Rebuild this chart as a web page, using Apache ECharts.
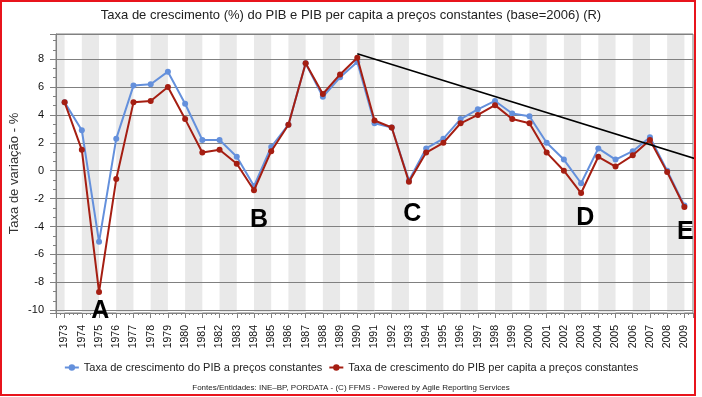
<!DOCTYPE html>
<html>
<head>
<meta charset="utf-8">
<script src="https://cdn.jsdelivr.net/npm/echarts@6/dist/echarts.min.js"></script>
<style>
  html, body { margin: 0; padding: 0; background: #fff; }
  #chart { width: 702px; height: 397px; }
</style>
</head>
<body>
<div id="chart"></div>
<script>
// anos (eixo x)
const years = [1973, 1974, 1975, 1976, 1977, 1978, 1979, 1980, 1981, 1982, 1983, 1984, 1985,
  1986, 1987, 1988, 1989, 1990, 1991, 1992, 1993, 1994, 1995, 1996, 1997, 1998, 1999,
  2000, 2001, 2002, 2003, 2004, 2005, 2006, 2007, 2008, 2009];

// Taxa de crescimento do PIB a preços constantes
const pib = [4.9, 2.9, -5.1, 2.3, 6.1, 6.2, 7.1, 4.8, 2.2, 2.2, 1.0, -1.1, 1.7,
  3.3, 7.7, 5.3, 6.7, 7.8, 3.4, 3.1, -0.7, 1.6, 2.3, 3.7, 4.4, 5.0, 4.1,
  3.9, 2.0, 0.8, -0.9, 1.6, 0.8, 1.4, 2.4, 0.0, -2.5];

// Taxa de crescimento do PIB per capita a preços constantes
const pibPerCapita = [4.9, 1.5, -8.7, -0.6, 4.9, 5.0, 6.0, 3.7, 1.3, 1.5, 0.5, -1.4, 1.4,
  3.3, 7.7, 5.5, 6.9, 8.1, 3.6, 3.1, -0.8, 1.3, 2.0, 3.4, 4.0, 4.7, 3.7,
  3.4, 1.3, 0.0, -1.6, 1.0, 0.3, 1.1, 2.2, -0.1, -2.6];

// linha de tendência desenhada por cima (ano, valor)
const trendYears = [1990, 2010.05];
const trendValues = [8.38, 0.7];

// letras de anotação
const notes = ['A', 'B', 'C', 'D', 'E'];
const noteYears = [1975.07, 1984.3, 1993.2, 2003.25, 2009.05];
const noteValues = [-10.1, -3.55, -3.1, -3.4, -4.4];

const seriesNames = ['Taxa de crescimento do PIB a preços constantes',
  'Taxa de crescimento do PIB per capita a preços constantes'];

const font = 'Liberation Sans, Arial, sans-serif';

const chart = echarts.init(document.getElementById('chart'));

const option = {
  backgroundColor: '#fff',
  animation: false,
  title: [
    {
      text: 'Taxa de crescimento (%) do PIB e PIB per capita a preços constantes (base=2006) (R)',
      left: 'center',
      top: 9,
      padding: 0,
      textStyle: { fontSize: 13, fontWeight: 'normal', color: '#222', fontFamily: font }
    },
    {
      text: 'Fontes/Entidades: INE\u2013BP, PORDATA - (C) FFMS - Powered by Agile Reporting Services',
      left: 'center',
      top: 384,
      padding: 0,
      textStyle: { fontSize: 8, fontWeight: 'normal', color: '#222', fontFamily: font }
    }
  ],
  legend: {
    data: seriesNames,
    top: 362,
    left: 'center',
    padding: 0,
    itemGap: 6,
    itemWidth: 14,
    itemHeight: 8,
    textStyle: { fontSize: 11, color: '#222', fontFamily: font }
  },
  grid: {
    left: 56,
    right: 9,
    top: 34,
    bottom: 84,
    outerBoundsMode: 'none',
    show: true,
    borderColor: '#808080',
    borderWidth: 1,
    backgroundColor: 'transparent'
  },
  xAxis: {
    type: 'value',
    min: 1972.5,
    max: 2009.5,
    splitNumber: 37,
    minInterval: 1,
    z: 0,
    axisLine: { show: true, onZero: false, lineStyle: { color: '#808080' } },
    axisTick: { show: true, length: 5, lineStyle: { color: '#808080' } },
    minorTick: { show: true, splitNumber: 4, length: 2, lineStyle: { color: '#808080' } },
    axisLabel: {
      rotate: 90,
      margin: 12,
      fontSize: 10.5,
      color: '#111',
      fontFamily: font,
      formatter: v => (years.indexOf(v) >= 0 ? String(v) : '')
    },
    splitLine: { show: false },
    splitArea: { show: true, areaStyle: { color: ['#e9e9e9', 'rgba(255,255,255,0)'] } }
  },
  yAxis: {
    type: 'value',
    min: -10.2,
    max: 9.8,
    splitNumber: 10,
    z: 1,
    name: 'Taxa de variação - %',
    nameLocation: 'middle',
    nameGap: 35,
    nameMoveOverlap: false,
    nameTextStyle: { fontSize: 13, color: '#333', fontFamily: font },
    axisLine: { show: true, lineStyle: { color: '#808080' } },
    axisTick: { show: true, length: 6, lineStyle: { color: '#808080' } },
    minorTick: { show: true, splitNumber: 3, length: 3, lineStyle: { color: '#808080' } },
    axisLabel: {
      margin: 12,
      fontSize: 11,
      color: '#111',
      fontFamily: font,
      formatter: v => (Math.abs(v % 2) < 1e-9 ? String(v) : '')
    },
    splitLine: { show: true, lineStyle: { color: '#808080', width: 1 } }
  },
  series: [
    {
      name: seriesNames[0],
      type: 'line',
      data: years.map((y, i) => [y, pib[i]]),
      symbol: 'circle',
      symbolSize: 6,
      itemStyle: { color: '#6490dc' },
      lineStyle: { color: '#6490dc', width: 2 },
      z: 3
    },
    {
      name: seriesNames[1],
      type: 'line',
      data: years.map((y, i) => [y, pibPerCapita[i]]),
      symbol: 'circle',
      symbolSize: 6,
      itemStyle: { color: '#a51e12' },
      lineStyle: { color: '#a51e12', width: 2 },
      z: 4
    },
    {
      name: 'tendencia',
      type: 'line',
      data: trendYears.map((y, i) => [y, trendValues[i]]),
      symbol: 'none',
      clip: false,
      lineStyle: { color: '#000', width: 1.5 },
      silent: true,
      z: 5
    },
    {
      name: 'notas',
      type: 'scatter',
      data: notes.map((t, i) => ({ value: [noteYears[i], noteValues[i]], name: t })),
      symbolSize: 0,
      clip: false,
      silent: true,
      label: {
        show: true,
        position: 'inside',
        formatter: p => p.name,
        fontSize: 25,
        fontWeight: 'bold',
        color: '#000',
        opacity: 1,
        textBorderWidth: 0,
        fontFamily: font
      },
      z: 6
    }
  ],
  graphic: [
    {
      type: 'rect',
      shape: { x: 1, y: 1, width: 694, height: 394 },
      style: { fill: 'none', stroke: '#e8141c', lineWidth: 2 },
      silent: true,
      z: 100
    }
  ]
};

chart.setOption(option);
</script>
</body>
</html>
